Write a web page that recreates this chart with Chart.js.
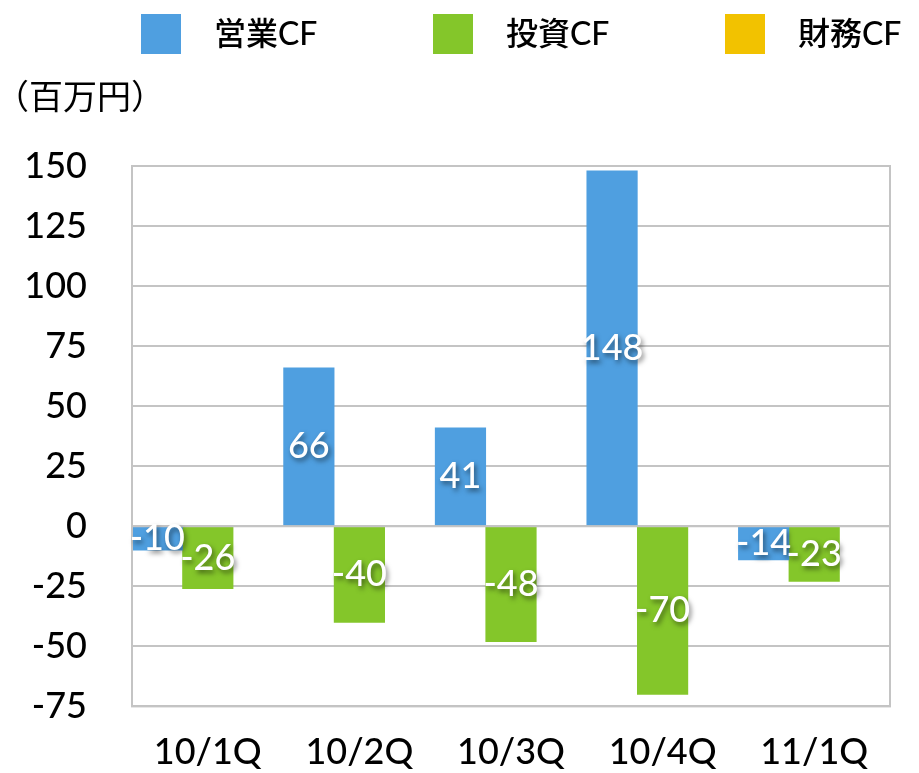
<!DOCTYPE html>
<html>
<head>
<meta charset="utf-8">
<script src="https://cdn.jsdelivr.net/npm/chart.js@4"></script>
<style>
  body { margin: 0; background: #fff; }
  #wrap { width: 919px; height: 773px; }
</style>
</head>
<body>
<div id="wrap"><canvas id="cfChart" width="919" height="773"></canvas></div>
<script>
const categories = ['10/1Q', '10/2Q', '10/3Q', '10/4Q', '11/1Q'];
const seriesNames = ['営業CF', '投資CF', '財務CF'];
const operatingCF = [-10, 66, 41, 148, -14];
const investingCF = [-26, -40, -48, -70, -23];
const financingCF = [null, null, null, null, null];
const yMin = -75;
const yMax = 150;
const yStep = 25;
const unitLabel = '（百万円）';

const colors = ['#4f9fe0', '#84c62a', '#f2c200'];
const gridGray = '#c4c4c4';
const numFont = "Lato, 'Noto Sans CJK JP', sans-serif";

const ctx = document.getElementById('cfChart').getContext('2d');

// legend + unit text on top
const topLegend = {
  id: 'topLegend',
  afterDraw(chart) {
    const c = chart.ctx;
    c.save();
    chart.data.datasets.forEach((ds, i) => {
      const x = 141 + i * 292;
      c.fillStyle = ds.backgroundColor;
      c.fillRect(x, 14, 40, 40);
      c.fillStyle = '#000';
      c.font = "500 32px " + numFont;
      c.textBaseline = 'middle';
      c.textAlign = 'left';
      c.fillText(ds.label, x + 73, 35);
    });
    c.font = "34px 'Noto Sans CJK JP', sans-serif";
    c.fillText(unitLabel, -5, 96);
    c.restore();
  }
};

// frame, zero line, value labels
const barLabels = {
  id: 'barLabels',
  afterDatasetsDraw(chart) {
    const c = chart.ctx;
    const a = chart.chartArea;
    const y0 = chart.scales.y.getPixelForValue(0);
    c.save();
    c.strokeStyle = gridGray;
    c.lineWidth = 2;
    c.strokeRect(a.left, a.top, a.right - a.left, a.bottom - a.top);
    c.beginPath();
    c.moveTo(a.left, y0);
    c.lineTo(a.right, y0);
    c.stroke();
    c.restore();
  },
  afterDraw(chart) {
    const c = chart.ctx;
    c.save();
    c.font = "500 36px " + numFont;
    c.textAlign = 'center';
    c.textBaseline = 'middle';
    c.fillStyle = '#fff';
    c.shadowColor = 'rgba(0,0,0,0.5)';
    c.shadowBlur = 5;
    c.shadowOffsetX = 2;
    c.shadowOffsetY = 3;
    chart.data.datasets.forEach((ds, i) => {
      chart.getDatasetMeta(i).data.forEach((bar, j) => {
        const v = ds.data[j];
        if (v === null || v === undefined) return;
        const p = bar.getProps(['x', 'y', 'base'], true);
        c.fillText(String(v), p.x, (p.y + p.base) / 2);
      });
    });
    c.restore();
  }
};

new Chart(ctx, {
  type: 'bar',
  data: {
    labels: categories,
    datasets: [
      { label: seriesNames[0], data: operatingCF, backgroundColor: colors[0] },
      { label: seriesNames[1], data: investingCF, backgroundColor: colors[1] },
      { label: seriesNames[2], data: financingCF, backgroundColor: colors[2] }
    ]
  },
  options: {
    responsive: false,
    animation: false,
    layout: { padding: { top: 166, right: 29, left: 0, bottom: 0 } },
    datasets: { bar: { barPercentage: 1, categoryPercentage: 1 } },
    plugins: {
      legend: { display: false },
      tooltip: { enabled: false }
    },
    scales: {
      x: {
        grid: { display: false, drawTicks: false },
        border: { display: false },
        ticks: { color: '#000', font: { family: numFont, size: 36, weight: 500 }, padding: 24, maxRotation: 0 },
        afterFit(scale) { scale.height = 66; }
      },
      y: {
        min: yMin,
        max: yMax,
        grid: { color: gridGray, lineWidth: 2, drawTicks: false },
        border: { display: false },
        ticks: { stepSize: yStep, color: '#000', font: { family: numFont, size: 36, weight: 500 }, padding: 45 },
        afterFit(scale) { scale.width = 132; }
      }
    }
  },
  plugins: [topLegend, barLabels]
});
</script>
</body>
</html>
